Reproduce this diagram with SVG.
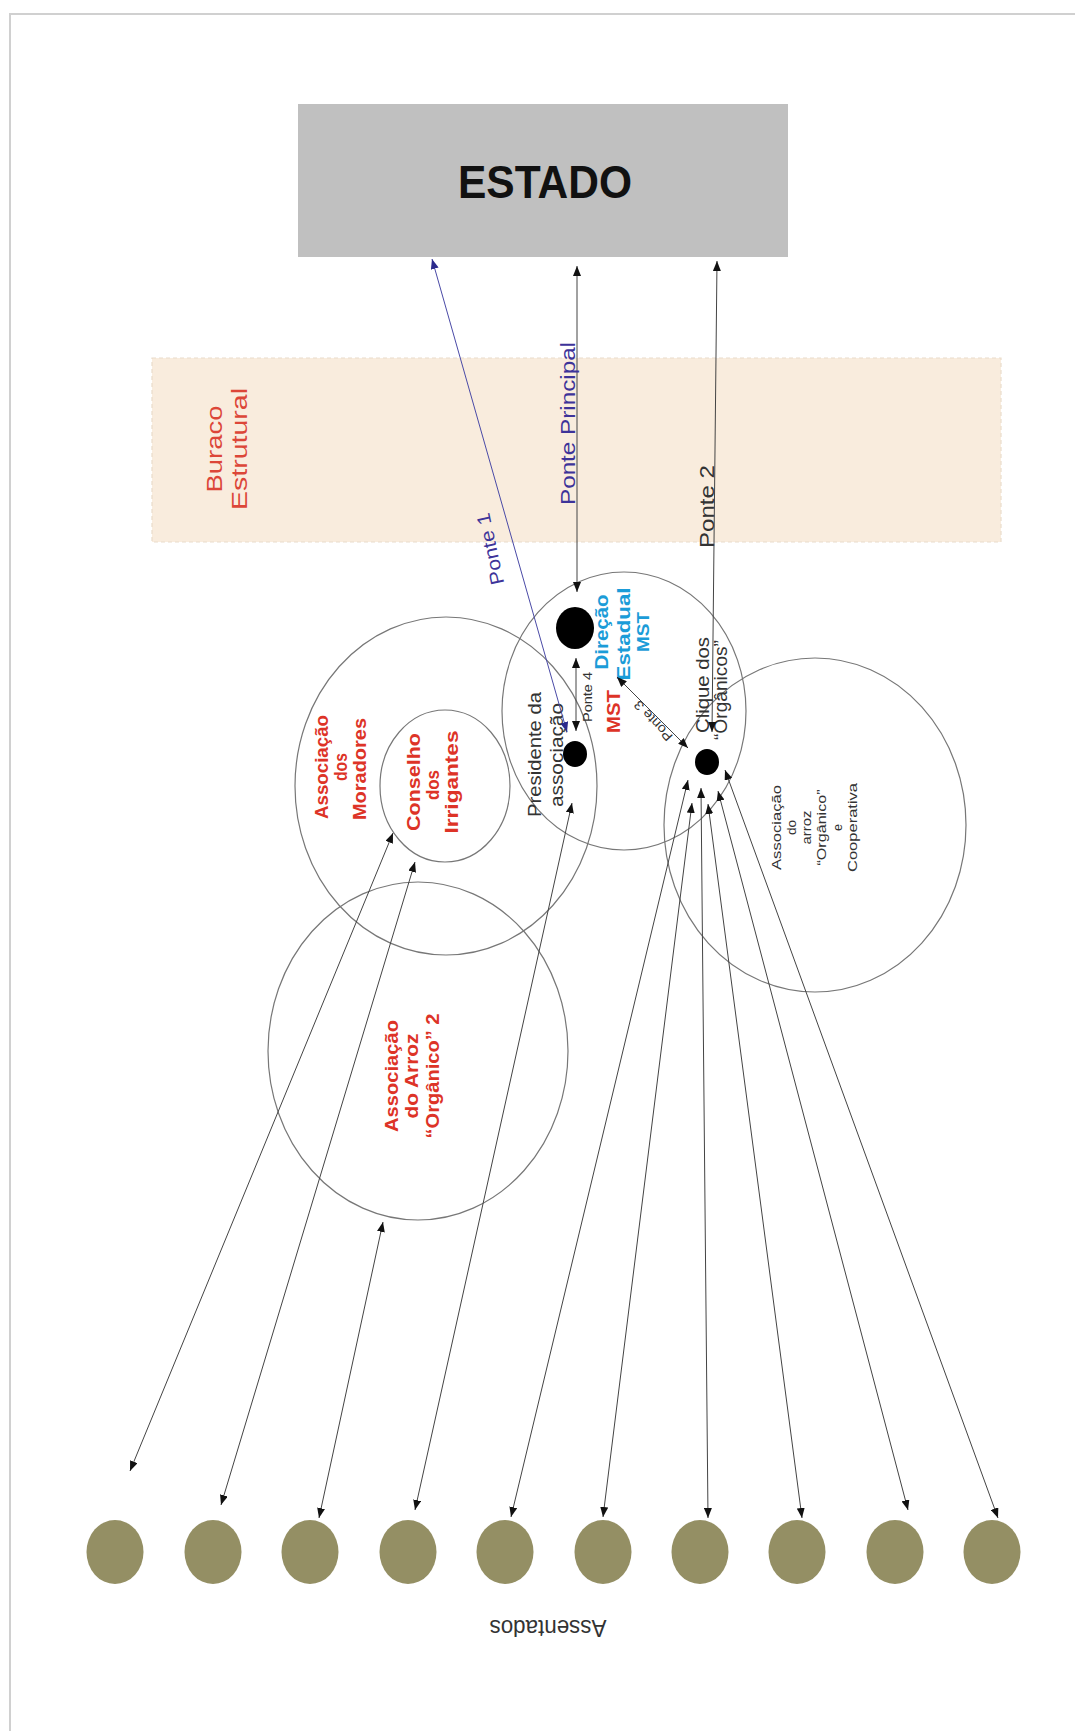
<svg xmlns="http://www.w3.org/2000/svg" width="1075" height="1731" viewBox="0 0 1075 1731">
  <defs>
    <marker id="ah" viewBox="0 0 10 8" refX="10" refY="4" markerWidth="10" markerHeight="8" markerUnits="userSpaceOnUse" orient="auto-start-reverse">
      <path d="M0,0 L10,4 L0,8 z" fill="#111"/>
    </marker>
    <marker id="ahb" viewBox="0 0 10 8" refX="10" refY="4" markerWidth="10" markerHeight="8" markerUnits="userSpaceOnUse" orient="auto-start-reverse">
      <path d="M0,0 L10,4 L0,8 z" fill="#2b2a8c"/>
    </marker>
    <style>
      text { font-family: "Liberation Sans", Arial, sans-serif; }
      .ring { fill: none; stroke: #777; stroke-width: 1.2; }
      .dot { fill: #000; }
      .seat { fill: #948f64; }
      .link { fill: none; stroke: #444; stroke-width: 1; marker-start: url(#ah); marker-end: url(#ah); }
      .link-blue { fill: none; stroke: #4a4aa6; stroke-width: 1; marker-start: url(#ahb); marker-end: url(#ahb); }
      .red { fill: #dd3327; font-weight: bold; }
      .cyan { fill: #1b9cd8; font-weight: bold; }
      .violet { fill: #3d3399; }
      .gray { fill: #333; }
    </style>
  </defs>

  <!-- page frame -->
  <rect x="10" y="14" width="1100" height="1800" fill="#fff" stroke="#d0d0d0" stroke-width="2"/>

  <!-- structural hole band -->
  <g id="buraco-estrutural">
    <rect x="152" y="358" width="849" height="184" fill="#f9ecdd" stroke="#eadccb" stroke-width="1.2" stroke-dasharray="4 3"/>
    <text transform="translate(214,449) rotate(-90)" y="7.9" font-size="22" text-anchor="middle" textLength="87" lengthAdjust="spacingAndGlyphs" fill="#dc4638">Buraco</text>
    <text transform="translate(239,449) rotate(-90)" y="7.9" font-size="22" text-anchor="middle" textLength="122" lengthAdjust="spacingAndGlyphs" fill="#dc4638">Estrutural</text>
  </g>

  <!-- state -->
  <g id="estado">
    <rect x="298" y="104" width="490" height="153" fill="#c0c0c0"/>
    <text x="545" y="198" font-size="46" font-weight="bold" text-anchor="middle" textLength="174" lengthAdjust="spacingAndGlyphs" fill="#111">ESTADO</text>
  </g>

  <!-- groups (circles) -->
  <g id="assoc-moradores">
    <ellipse class="ring" cx="446" cy="786" rx="151" ry="169"/>
    <text class="red" transform="translate(321.5,767) rotate(-90)" y="6.4" font-size="18" text-anchor="middle" textLength="104" lengthAdjust="spacingAndGlyphs">Associação</text>
    <text class="red" transform="translate(341,767) rotate(-90)" y="6.4" font-size="18" text-anchor="middle" textLength="28" lengthAdjust="spacingAndGlyphs">dos</text>
    <text class="red" transform="translate(359.5,769) rotate(-90)" y="6.4" font-size="18" text-anchor="middle" textLength="102" lengthAdjust="spacingAndGlyphs">Moradores</text>
  </g>

  <g id="conselho-irrigantes">
    <ellipse class="ring" cx="445" cy="786" rx="65" ry="76"/>
    <text class="red" transform="translate(413.5,782) rotate(-90)" y="6.4" font-size="18" text-anchor="middle" textLength="98" lengthAdjust="spacingAndGlyphs">Conselho</text>
    <text class="red" transform="translate(432.5,785) rotate(-90)" y="6.4" font-size="18" text-anchor="middle" textLength="30" lengthAdjust="spacingAndGlyphs">dos</text>
    <text class="red" transform="translate(451.5,782) rotate(-90)" y="6.4" font-size="18" text-anchor="middle" textLength="103" lengthAdjust="spacingAndGlyphs">Irrigantes</text>
  </g>

  <g id="assoc-arroz-2">
    <ellipse class="ring" cx="418" cy="1051" rx="150" ry="169"/>
    <text class="red" transform="translate(391.5,1076) rotate(-90)" y="6.4" font-size="18" text-anchor="middle" textLength="112" lengthAdjust="spacingAndGlyphs">Associação</text>
    <text class="red" transform="translate(411.5,1076) rotate(-90)" y="6.4" font-size="18" text-anchor="middle" textLength="85" lengthAdjust="spacingAndGlyphs">do Arroz</text>
    <text class="red" transform="translate(432.5,1076) rotate(-90)" y="6.4" font-size="18" text-anchor="middle" textLength="125" lengthAdjust="spacingAndGlyphs">“Orgânico” 2</text>
  </g>

  <g id="mst">
    <ellipse class="ring" cx="624" cy="711" rx="122" ry="139"/>
    <text class="red" transform="translate(613.5,711.5) rotate(-90)" y="6.4" font-size="18" text-anchor="middle" textLength="43" lengthAdjust="spacingAndGlyphs">MST</text>
  </g>

  <g id="assoc-arroz-cooperativa">
    <ellipse class="ring" cx="815" cy="825" rx="151" ry="167"/>
    <g class="gray" font-size="12.5" text-anchor="middle">
      <text transform="translate(776,827.5) rotate(-90)" y="4.5" textLength="85" lengthAdjust="spacingAndGlyphs">Associação</text>
      <text transform="translate(791.3,827.5) rotate(-90)" y="4.5" textLength="15" lengthAdjust="spacingAndGlyphs">do</text>
      <text transform="translate(806.6,827.5) rotate(-90)" y="4.5" textLength="34" lengthAdjust="spacingAndGlyphs">arroz</text>
      <text transform="translate(821.9,827.5) rotate(-90)" y="4.5" textLength="76" lengthAdjust="spacingAndGlyphs">“Orgânico”</text>
      <text transform="translate(837.2,827.5) rotate(-90)" y="4.5">e</text>
      <text transform="translate(852.5,827.5) rotate(-90)" y="4.5" textLength="89" lengthAdjust="spacingAndGlyphs">Cooperativa</text>
    </g>
  </g>

  <!-- actors -->
  <g id="direcao-estadual">
    <ellipse class="dot" cx="575" cy="628" rx="19" ry="21"/>
    <text class="cyan" transform="translate(601.5,632) rotate(-90)" y="6.4" font-size="18" text-anchor="middle" textLength="75" lengthAdjust="spacingAndGlyphs">Direção</text>
    <text class="cyan" transform="translate(623.5,634) rotate(-90)" y="6.4" font-size="18" text-anchor="middle" textLength="93" lengthAdjust="spacingAndGlyphs">Estadual</text>
    <text class="cyan" transform="translate(642.5,632) rotate(-90)" y="6.4" font-size="17" text-anchor="middle" textLength="40" lengthAdjust="spacingAndGlyphs">MST</text>
  </g>

  <g id="presidente">
    <ellipse class="dot" cx="575" cy="754" rx="12" ry="13"/>
    <text class="gray" transform="translate(534.5,754.5) rotate(-90)" y="6.4" font-size="18" text-anchor="middle" textLength="125" lengthAdjust="spacingAndGlyphs">Presidente da</text>
    <text class="gray" transform="translate(556.5,755) rotate(-90)" y="6.4" font-size="18" text-anchor="middle" textLength="104" lengthAdjust="spacingAndGlyphs">associação</text>
  </g>

  <g id="clique-organicos">
    <ellipse class="dot" cx="707" cy="762" rx="12" ry="13"/>
    <text class="gray" transform="translate(702.5,685) rotate(-90)" y="6.4" font-size="18" text-anchor="middle" textLength="96" lengthAdjust="spacingAndGlyphs">Clique dos</text>
    <text class="gray" transform="translate(720.5,690) rotate(-90)" y="6.4" font-size="18" text-anchor="middle" textLength="100" lengthAdjust="spacingAndGlyphs">“Orgânicos”</text>
  </g>

  <!-- settlers -->
  <g id="assentados">
    <ellipse class="seat" cx="115" cy="1552" rx="28.5" ry="32"/>
    <ellipse class="seat" cx="213" cy="1552" rx="28.5" ry="32"/>
    <ellipse class="seat" cx="310" cy="1552" rx="28.5" ry="32"/>
    <ellipse class="seat" cx="408" cy="1552" rx="28.5" ry="32"/>
    <ellipse class="seat" cx="505" cy="1552" rx="28.5" ry="32"/>
    <ellipse class="seat" cx="603" cy="1552" rx="28.5" ry="32"/>
    <ellipse class="seat" cx="700" cy="1552" rx="28.5" ry="32"/>
    <ellipse class="seat" cx="797" cy="1552" rx="28.5" ry="32"/>
    <ellipse class="seat" cx="895" cy="1552" rx="28.5" ry="32"/>
    <ellipse class="seat" cx="992" cy="1552" rx="28.5" ry="32"/>
    <text class="gray" transform="translate(548,1629) rotate(180)" y="8.6" font-size="24" text-anchor="middle" textLength="117" lengthAdjust="spacingAndGlyphs">Assentados</text>
  </g>

  <!-- connectors -->
  <g id="connectors">
    <line class="link-blue" x1="432" y1="259" x2="567" y2="732"/>
    <line class="link" x1="577" y1="266" x2="577" y2="592"/>
    <line class="link" x1="717" y1="261" x2="712" y2="732"/>
    <line class="link" x1="576" y1="658" x2="576" y2="731"/>
    <line class="link" x1="617" y1="677" x2="688" y2="748"/>

    <line class="link" x1="130" y1="1471" x2="393" y2="833"/>
    <line class="link" x1="221" y1="1505" x2="415" y2="862"/>
    <line class="link" x1="319" y1="1518" x2="383" y2="1222"/>
    <line class="link" x1="415" y1="1510" x2="572" y2="803"/>
    <line class="link" x1="511" y1="1517" x2="688" y2="780"/>
    <line class="link" x1="603" y1="1517" x2="692" y2="803"/>
    <line class="link" x1="708" y1="1518" x2="701" y2="788"/>
    <line class="link" x1="802" y1="1518" x2="708" y2="804"/>
    <line class="link" x1="908" y1="1510" x2="718" y2="791"/>
    <line class="link" x1="998" y1="1518" x2="725" y2="770"/>

    <text class="violet" transform="translate(490,549) rotate(-102)" y="6.8" font-size="19" text-anchor="middle" textLength="73" lengthAdjust="spacingAndGlyphs">Ponte 1</text>
    <text class="violet" transform="translate(567.5,423.5) rotate(-90)" y="7.5" font-size="21" text-anchor="middle" textLength="163" lengthAdjust="spacingAndGlyphs">Ponte Principal</text>
    <text class="gray" transform="translate(706,506.5) rotate(-90)" y="7.5" font-size="21" text-anchor="middle" textLength="83" lengthAdjust="spacingAndGlyphs">Ponte 2</text>
    <text class="gray" transform="translate(653,721) rotate(-133)" y="4.7" font-size="13" text-anchor="middle" textLength="50" lengthAdjust="spacingAndGlyphs">Ponte 3</text>
    <text class="gray" transform="translate(587.5,697) rotate(-90)" y="4.7" font-size="13" text-anchor="middle" textLength="50" lengthAdjust="spacingAndGlyphs">Ponte 4</text>
  </g>
</svg>
